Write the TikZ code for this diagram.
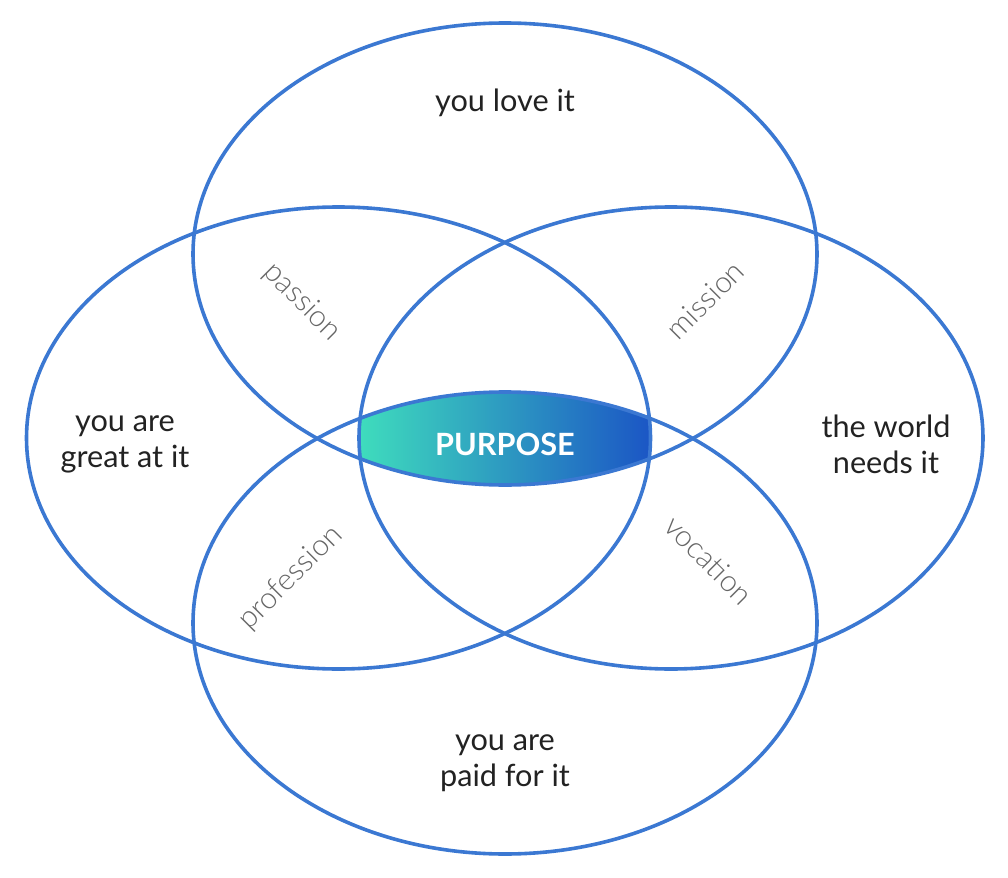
\documentclass[tikz,border=0pt]{standalone}
\usepackage{fontspec}
\setmainfont{Lato}
\newfontfamily\lightfont{Lato Light}
\definecolor{ring}{HTML}{3B78D2}
\definecolor{ink}{HTML}{222222}
\definecolor{soft}{HTML}{666666}
\definecolor{tealc}{HTML}{3FDDBD}
\definecolor{bluec}{HTML}{1B55C5}
\tikzset{
  ringline/.style={draw=ring, line width=2.7pt},
  maintext/.style={text=ink, font=\fontsize{23}{27}\selectfont, align=center},
  softtext/.style={text=soft, font=\lightfont\fontsize{22.5}{24}\selectfont},
  purposetext/.style={text=white, font=\fontsize{23}{24}\selectfont\bfseries}
}
\begin{document}
\begin{tikzpicture}[x=0.75pt,y=-0.75pt]
\useasboundingbox (0,0) rectangle (1008,878);
% centres
\coordinate (ctop) at (505,254);
\coordinate (cbot) at (505,623);
\coordinate (cleft) at (338.5,438);
\coordinate (cright) at (671,438);
% gradient core
\begin{scope}
  \clip (ctop) ellipse [x radius=312, y radius=231];
  \clip (cbot) ellipse [x radius=312, y radius=231];
  \clip (cleft) ellipse [x radius=312, y radius=231];
  \clip (cright) ellipse [x radius=312, y radius=231];
  \shade[left color=tealc, right color=bluec] (358,380) rectangle (652,500);
\end{scope}
% rings
\draw[ringline] (ctop) ellipse [x radius=312, y radius=231];
\draw[ringline] (cbot) ellipse [x radius=312, y radius=231];
\draw[ringline] (cleft) ellipse [x radius=312, y radius=231];
\draw[ringline] (cright) ellipse [x radius=312, y radius=231];
% labels
\node[maintext] (love) at (505,103) {you love it};
\node[maintext] (great) at (125,444) {you are\\great at it};
\node[maintext] (world) at (886,444) {the world\\needs it};
\node[maintext] (paid) at (505,763) {you are\\paid for it};
\node[purposetext] (purpose) at (505,444) {PURPOSE};
\node[softtext, rotate=-45] (passion) at (302,302) {passion};
\node[softtext, rotate=45] (mission) at (705,300) {mission};
\node[softtext, rotate=45] (profession) at (291,578) {profession};
\node[softtext, rotate=-45] (vocation) at (709,560) {vocation};
\end{tikzpicture}
\end{document}
